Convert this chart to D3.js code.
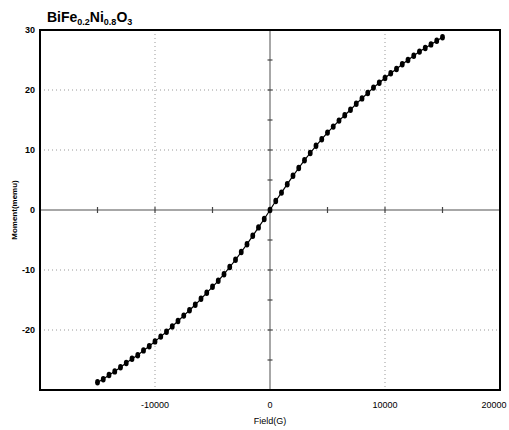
<!DOCTYPE html>
<html>
<head>
<meta charset="utf-8">
<script src="https://cdn.jsdelivr.net/npm/d3@7"></script>
<style>
  body { margin: 0; background: #fff; }
  svg { display: block; }
  text { font-family: "Liberation Sans Narrow", "Arial Narrow", "Liberation Sans", sans-serif; fill: #000; }
</style>
</head>
<body>
<div id="app"></div>
<script>
// M-H loop data, field in G, moment in memu
const fields = [
  -15000, -14500, -14000, -13500, -13000, -12500, -12000, -11500, -11000, -10500,
  -10000, -9500, -9000, -8500, -8000, -7500, -7000, -6500, -6000, -5500,
  -5000, -4500, -4000, -3500, -3000, -2500, -2000, -1500, -1000, -500,
  0, 500, 1000, 1500, 2000, 2500, 3000, 3500, 4000, 4500,
  5000, 5500, 6000, 6500, 7000, 7500, 8000, 8500, 9000, 9500,
  10000, 10500, 11000, 11500, 12000, 12500, 13000, 13500, 14000, 14500, 15000
];
const moments = [
  -28.7, -28.2, -27.5, -26.9, -26.2, -25.5, -24.8, -24.2, -23.4, -22.7,
  -21.9, -21.1, -20.3, -19.4, -18.5, -17.6, -16.7, -15.8, -14.8, -13.8,
  -12.8, -11.8, -10.7, -9.5, -8.3, -7.0, -5.7, -4.3, -2.9, -1.5,
  0, 1.5, 2.9, 4.3, 5.7, 7.0, 8.3, 9.5, 10.7, 11.8,
  12.9, 13.9, 14.9, 15.8, 16.7, 17.7, 18.6, 19.5, 20.4, 21.2,
  22.0, 22.8, 23.5, 24.3, 25.0, 25.7, 26.4, 27.0, 27.6, 28.2, 28.8
];
const xLabelTicks = [-10000, 0, 10000, 20000];
const yLabelTicks = [-20, -10, 0, 10, 20, 30];
const xGrid = [-10000, 10000];
const yGrid = [-20, -10, 10, 20];
const xMinor = [-15000, -10000, -5000, 5000, 10000, 15000];
const yMinor = [-25, -20, -15, -10, -5, 5, 10, 15, 20, 25];

const width = 509, height = 430;
const margin = { top: 30, right: 9, bottom: 40, left: 40 };

const points = fields.map((f, i) => ({ f, m: moments[i] }));

const svg = d3.select('#app').append('svg')
  .attr('width', width)
  .attr('height', height);

const x = d3.scaleLinear().domain([-20000, 20000]).range([margin.left, width - margin.right]);
const y = d3.scaleLinear().domain([-30, 30]).range([height - margin.bottom, margin.top]);

// dotted grid
svg.append('g')
  .selectAll('line')
  .data(xGrid)
  .enter().append('line')
  .attr('x1', d => x(d)).attr('x2', d => x(d))
  .attr('y1', y(30)).attr('y2', y(-30))
  .attr('stroke', '#999')
  .attr('stroke-width', 1)
  .attr('stroke-dasharray', '1,3');

svg.append('g')
  .selectAll('line')
  .data(yGrid)
  .enter().append('line')
  .attr('x1', x(-20000)).attr('x2', x(20000))
  .attr('y1', d => y(d)).attr('y2', d => y(d))
  .attr('stroke', '#999')
  .attr('stroke-width', 1)
  .attr('stroke-dasharray', '1,3');

// zero axes with ticks
const zero = svg.append('g');
zero.append('line')
  .attr('x1', x(-20000)).attr('x2', x(20000))
  .attr('y1', y(0)).attr('y2', y(0))
  .attr('stroke', '#8a8a8a').attr('stroke-width', 1.5);
zero.append('line')
  .attr('x1', x(0)).attr('x2', x(0))
  .attr('y1', y(30)).attr('y2', y(-30))
  .attr('stroke', '#8a8a8a').attr('stroke-width', 1.5);
zero.selectAll('.xt')
  .data(xMinor)
  .enter().append('line')
  .attr('x1', d => x(d)).attr('x2', d => x(d))
  .attr('y1', y(0) - 3).attr('y2', y(0) + 3)
  .attr('stroke', '#444').attr('stroke-width', 1.2);
zero.selectAll('.yt')
  .data(yMinor)
  .enter().append('line')
  .attr('x1', x(0) - 2.5).attr('x2', x(0) + 2.5)
  .attr('y1', d => y(d)).attr('y2', d => y(d))
  .attr('stroke', '#444').attr('stroke-width', 1.2);

// frame
svg.append('rect')
  .attr('x', x(-20000)).attr('y', y(30))
  .attr('width', x(20000) - x(-20000))
  .attr('height', y(-30) - y(30))
  .attr('fill', 'none')
  .attr('stroke', '#000')
  .attr('stroke-width', 2);

// tick labels (last one kept inside the window edge)
svg.append('g')
  .selectAll('text')
  .data(xLabelTicks)
  .enter().append('text')
  .attr('x', d => Math.min(x(d), width - 15))
  .attr('y', y(-30) + 18)
  .attr('text-anchor', 'middle')
  .attr('font-size', 9)
  .text(d => d);

svg.append('g')
  .selectAll('text')
  .data(yLabelTicks)
  .enter().append('text')
  .attr('x', x(-20000) - 5)
  .attr('y', d => y(d) + 3)
  .attr('text-anchor', 'end')
  .attr('font-size', 9)
  .attr('font-weight', 'bold')
  .text(d => d);

// axis titles
svg.append('text')
  .attr('x', x(0))
  .attr('y', y(-30) + 34)
  .attr('text-anchor', 'middle')
  .attr('font-size', 9)
  .text('Field(G)');

svg.append('text')
  .attr('transform', `translate(17,${y(0)}) rotate(-90)`)
  .attr('text-anchor', 'middle')
  .attr('font-size', 8)
  .attr('font-weight', 'bold')
  .text('Moment(memu)');

// chart title with subscripts
const title = svg.append('text')
  .attr('x', 47)
  .attr('y', 22)
  .attr('font-size', 14)
  .attr('font-weight', 'bold');
title.append('tspan').text('BiFe');
title.append('tspan').attr('font-size', 9).attr('dy', 3).text('0.2');
title.append('tspan').attr('dy', -3).text('Ni');
title.append('tspan').attr('font-size', 9).attr('dy', 3).text('0.8');
title.append('tspan').attr('dy', -3).text('O');
title.append('tspan').attr('font-size', 9).attr('dy', 3).text('3');

// curve
const line = d3.line()
  .x(d => x(d.f))
  .y(d => y(d.m));

svg.append('path')
  .datum(points)
  .attr('d', line)
  .attr('fill', 'none')
  .attr('stroke', '#000')
  .attr('stroke-width', 1.2);

svg.append('g')
  .selectAll('ellipse')
  .data(points)
  .enter().append('ellipse')
  .attr('cx', d => x(d.f))
  .attr('cy', d => y(d.m))
  .attr('rx', 2.4)
  .attr('ry', 3.2)
  .attr('fill', '#000');
</script>
</body>
</html>
